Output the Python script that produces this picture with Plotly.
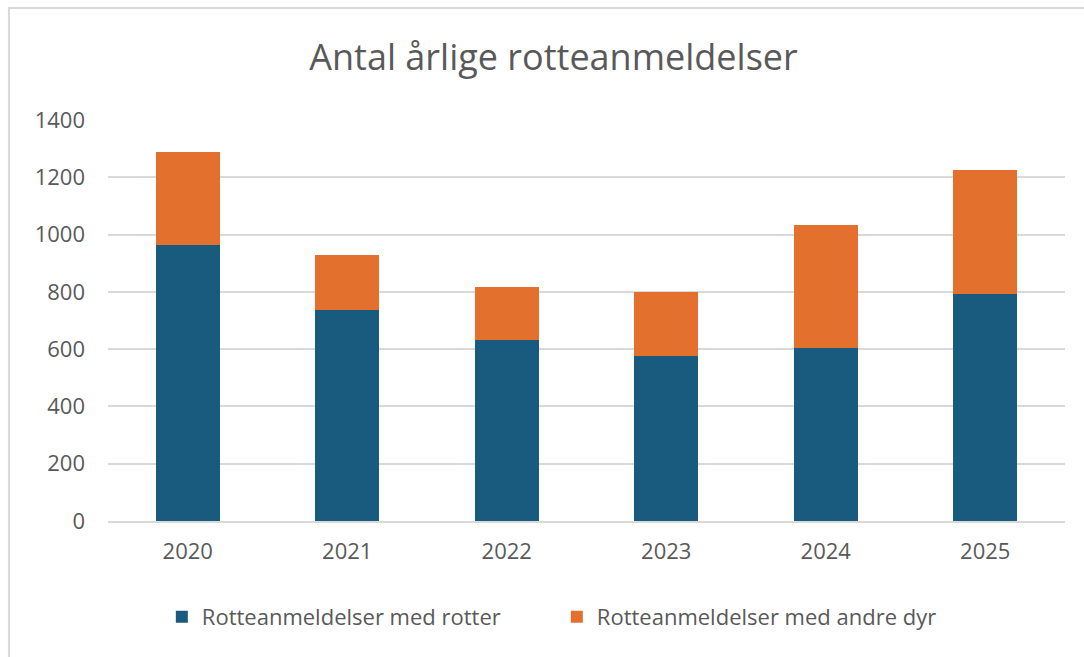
import plotly.graph_objects as go

years = ["2020", "2021", "2022", "2023", "2024", "2025"]
rotter = [965, 736, 631, 576, 605, 794]
andre_totals = [1287, 927, 817, 798, 1034, 1227]
andre = [t - r for t, r in zip(andre_totals, rotter)]

fig = go.Figure()
fig.add_bar(x=years, y=rotter, name="Rotteanmeldelser med rotter",
            marker=dict(color="#185b7f", line=dict(width=0)))
fig.add_bar(x=years, y=andre, name="Rotteanmeldelser med andre dyr",
            marker=dict(color="#e4702d", line=dict(width=0)))

fig.update_layout(
    barmode="stack",
    bargap=0.6,
    width=1084, height=657,
    paper_bgcolor="white", plot_bgcolor="white",
    font=dict(family="Open Sans, sans-serif", color="#595959", size=22),
    title=dict(text="Antal årlige rotteanmeldelser", xref="paper", x=0.4655, xanchor="center",
               y=0.913, yanchor="middle", font=dict(size=36, color="#595959")),
    margin=dict(l=108, r=19, t=120, b=136),
    legend=dict(orientation="h", x=0.469, xanchor="center", y=-0.239, yanchor="middle",
                font=dict(size=22, color="#595959"), traceorder="normal",
                itemsizing="constant", entrywidth=350, entrywidthmode="pixels"),
    showlegend=True,
    shapes=[dict(type="rect", xref="paper", yref="paper", x0=-0.1035, x1=1.2,
                 y0=-0.5, y1=1.279, line=dict(color="#d9d9d9", width=2))],
)
fig.update_yaxes(range=[0, 1400], dtick=200, gridcolor="#d9d9d9", gridwidth=1.5,
                 zeroline=False, showline=False, ticks="", ticklabelstandoff=22,
                 tickfont=dict(size=22, color="#595959"))
fig.update_xaxes(showline=True, linecolor="#d9d9d9", linewidth=1.5, ticks="",
                 tickfont=dict(size=22, color="#595959"), ticklabelstandoff=10)

fig.write_html("out.html", config={"displayModeBar": False},
               post_script="document.body.style.margin='0px';")
